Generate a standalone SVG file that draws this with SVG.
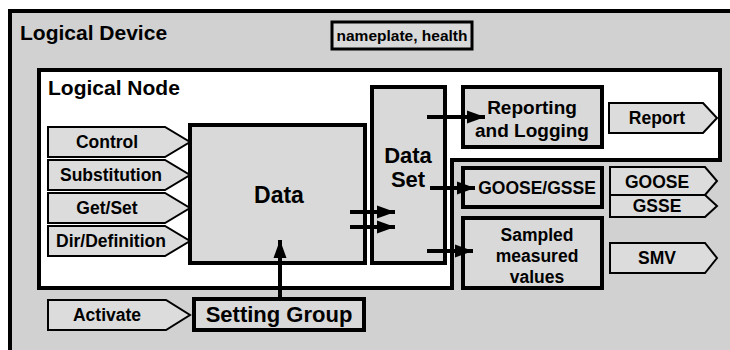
<svg xmlns="http://www.w3.org/2000/svg" width="730" height="350" viewBox="0 0 730 350">
<style>
text{font-family:"Liberation Sans",Arial,Helvetica,sans-serif;font-weight:bold;fill:#000;text-anchor:middle}
.box{fill:#d9d9d9;stroke:#000;stroke-width:4}
.tag{fill:#dcdcdc;stroke:#000;stroke-width:2;stroke-linejoin:miter}
.con{stroke:#000;stroke-width:4;fill:none}
.s17{font-size:17.5px}
</style>
<defs>
<marker id="ah" markerUnits="userSpaceOnUse" markerWidth="20" markerHeight="14" refX="18" refY="7" orient="auto">
<path d="M0,0.5 L18,7 L0,13.5 Z" fill="#000"/>
</marker>
</defs>
<rect x="0" y="0" width="730" height="350" fill="#fff"/>
<g id="logical-device">
<rect x="10" y="11" width="730" height="350" fill="#d1d1d1" stroke="#000" stroke-width="4"/>
<text x="20" y="40" style="font-size:21px;text-anchor:start">Logical Device</text>
</g>
<g id="nameplate">
<rect x="332" y="22" width="140" height="27" fill="#d9d9d9" stroke="#000" stroke-width="3"/>
<text x="402" y="41" style="font-size:15.5px">nameplate, health</text>
</g>
<g id="logical-node">
<path d="M39,70 H720 V160 H452 V288 H39 Z" fill="#fff" stroke="#000" stroke-width="4"/>
<text x="48" y="95" style="font-size:21px;text-anchor:start">Logical Node</text>
</g>
<g id="control">
<path class="tag" d="M48,127 H165 L190,142 L165,157 H48 Z"/>
<text class="s17" x="107" y="148">Control</text>
</g>
<g id="substitution">
<path class="tag" d="M48,160 H165 L190,175 L165,190 H48 Z"/>
<text class="s17" x="111" y="181">Substitution</text>
</g>
<g id="getset">
<path class="tag" d="M48,193 H165 L190,208 L165,223 H48 Z"/>
<text class="s17" x="107" y="214">Get/Set</text>
</g>
<g id="dirdefinition">
<path class="tag" d="M48,226 H165 L190,241 L165,256 H48 Z"/>
<text class="s17" x="111" y="247">Dir/Definition</text>
</g>
<g id="data">
<rect class="box" x="190" y="125" width="175" height="138"/>
<text x="279" y="203" style="font-size:23px">Data</text>
</g>
<g id="dataset">
<rect class="box" x="372" y="87" width="73" height="176"/>
<text x="408" y="163" style="font-size:22px">Data</text>
<text x="408" y="187" style="font-size:22px">Set</text>
</g>
<g id="reporting">
<rect class="box" x="463" y="87" width="139" height="60"/>
<text x="532" y="114" style="font-size:19px">Reporting</text>
<text x="532" y="137" style="font-size:19px">and Logging</text>
</g>
<g id="report">
<path class="tag" d="M609,103 H703 L717,118 L703,133 H609 Z"/>
<text class="s17" x="657" y="124">Report</text>
</g>
<g id="goosegsse">
<rect class="box" x="463" y="168" width="139" height="39"/>
<text class="s17" x="537" y="194">GOOSE/GSSE</text>
</g>
<g id="goose">
<path class="tag" d="M610,167 H705 L717,181 L705,195 H610 Z"/>
<text class="s17" x="657" y="188">GOOSE</text>
</g>
<g id="gsse">
<path class="tag" d="M610,195 H705 L717,206 L705,217 H610 Z"/>
<text class="s17" x="657" y="212">GSSE</text>
</g>
<g id="smv-box">
<rect class="box" x="463" y="218" width="139" height="70"/>
<text class="s17" x="537" y="241">Sampled</text>
<text class="s17" x="537" y="262">measured</text>
<text class="s17" x="537" y="283">values</text>
</g>
<g id="smv">
<path class="tag" d="M610,243 H705 L717,258 L705,273 H610 Z"/>
<text class="s17" x="657" y="264">SMV</text>
</g>
<g id="activate">
<path class="tag" d="M48,300 H166 L190,315 L166,330 H48 Z"/>
<text class="s17" x="107" y="321">Activate</text>
</g>
<g id="setting-group">
<rect class="box" x="194" y="299" width="170" height="31"/>
<text x="279" y="322" style="font-size:22px">Setting Group</text>
</g>
<g id="connectors">
<line class="con" x1="350" y1="212" x2="395" y2="212" marker-end="url(#ah)"/>
<line class="con" x1="350" y1="227" x2="395" y2="227" marker-end="url(#ah)"/>
<line class="con" x1="427" y1="117" x2="485" y2="117" marker-end="url(#ah)"/>
<line class="con" x1="430" y1="188" x2="475" y2="188" marker-end="url(#ah)"/>
<line class="con" x1="427" y1="251" x2="473" y2="251" marker-end="url(#ah)"/>
<line class="con" x1="280" y1="299" x2="280" y2="240" marker-end="url(#ah)"/>
</g>
</svg>
